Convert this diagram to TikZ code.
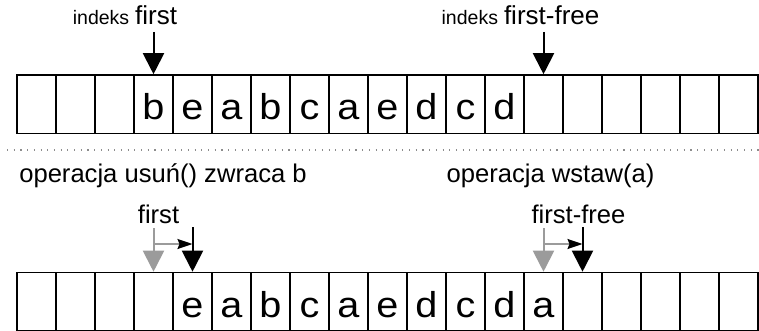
\documentclass[tikz,border=0pt]{standalone}
\usepackage{fontspec}
\setmainfont{Liberation Sans}
\newfontfamily\cellfont[FakeStretch=1.1]{Liberation Sans}
\usetikzlibrary{arrows.meta}
\definecolor{pastgray}{RGB}{155,155,155}
\definecolor{dotgray}{RGB}{140,140,140}
\tikzset{
  cell/.style={draw, rectangle, line width=1.6pt, minimum width=39pt,
    minimum height=58.5pt, inner sep=0pt, text height=31.5pt, text depth=0pt,
    font=\cellfont\fontsize{36}{38}\selectfont},
  ptr/.style={line width=2pt, -{Triangle[length=21pt,width=21pt]}},
  oldptr/.style={ptr, draw=pastgray},
  shift arrow/.style={draw=pastgray, line width=1.6pt,
    -{Stealth[length=15pt,width=10pt,inset=2pt,color=black]}},
  big/.style={font=\fontsize{25.6}{28}\selectfont},
}
\begin{document}
\begin{tikzpicture}[x=1pt,y=-1pt]
\useasboundingbox (0,0) rectangle (759,331);

% queue before the operations
\foreach \c [count=\i from 0] in {{},{},{},b,e,a,b,c,a,e,d,c,d,{},{},{},{},{},{}}
  \node[cell] (t\i) at (36.5+39*\i,104.25) {\c};

% queue after usun() and wstaw(a)
\foreach \c [count=\i from 0] in {{},{},{},{},e,a,b,c,a,e,d,c,d,a,{},{},{},{},{}}
  \node[cell] (b\i) at (36.5+39*\i,301.75) {\c};

% index labels and pointers, top
\node[anchor=base, inner sep=0pt] (lfirst) at (125,25)
  {{\fontsize{19.5}{22}\selectfont indeks}\hspace{6pt}{\fontsize{26}{28}\selectfont first}};
\node[anchor=base, inner sep=0pt] (lfree) at (520.5,25)
  {{\fontsize{19.5}{22}\selectfont indeks}\hspace{6pt}{\fontsize{26}{28}\selectfont first-free}};
\coordinate (pf) at (t3.north |- 0,32);
\coordinate (pff) at (t13.north |- 0,32);
\draw[ptr] (pf) -- (t3.north);
\draw[ptr] (pff) -- (t13.north);

% separator
\coordinate (sepL) at (7,150);
\coordinate (sepR) at (759,150);
\draw[dotgray, line width=1.3pt, dash pattern=on 1.1pt off 5.6pt] (sepL) -- (sepR);

% operation captions
\node[big, anchor=base, inner sep=0pt] (opdel) at (163,182) {operacja usuń() zwraca b};
\node[big, anchor=base, inner sep=0pt] (opins) at (550.5,182) {operacja wstaw(a)};
\node[big, anchor=base, inner sep=0pt] (lfirst2) at (158.5,223) {first};
\node[big, anchor=base, inner sep=0pt] (lfree2) at (578.5,223) {first-free};

% first moves one cell right
\coordinate (g1) at (b3.north |- 0,228);
\coordinate (n1) at (b4.north |- 0,227);
\coordinate (m1) at (b3.north |- 0,244);
\coordinate (m2) at (b4.north |- 0,244);
\draw[oldptr] (g1) -- (b3.north);
\draw[ptr] (n1) -- (b4.north);
\draw[shift arrow] (m1) -- (m2);

% first-free moves one cell right
\coordinate (g2) at (b13.north |- 0,228);
\coordinate (n2) at (b14.north |- 0,227);
\coordinate (m3) at (b13.north |- 0,244);
\coordinate (m4) at (b14.north |- 0,244);
\draw[oldptr] (g2) -- (b13.north);
\draw[ptr] (n2) -- (b14.north);
\draw[shift arrow] (m3) -- (m4);
\end{tikzpicture}
\end{document}
